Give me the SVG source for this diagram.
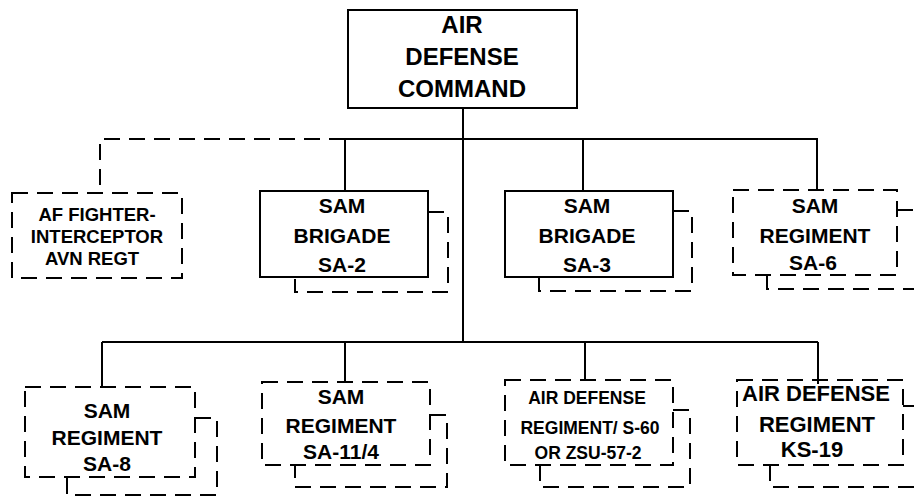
<svg xmlns="http://www.w3.org/2000/svg" width="914" height="497" viewBox="0 0 914 497">
<style>
.bg{fill:#fff}
.solid{fill:#fff;stroke:#000;stroke-width:2}
.dbox{fill:none;stroke:#000;stroke-width:2;stroke-dasharray:16 9}
.line{fill:none;stroke:#000;stroke-width:2}
.dline{fill:none;stroke:#000;stroke-width:2;stroke-dasharray:16 9}
text{font-family:"Liberation Sans",Arial,Helvetica,sans-serif;font-weight:bold;fill:#000;text-anchor:middle}
.t24{font-size:24px}
.t21{font-size:21px}
.t19{font-size:18.5px}
.t17{font-size:17.5px}
.t22{font-size:22px}
</style>
<rect class="bg" x="0" y="0" width="914" height="497"/>
<g id="connectors">
<path class="line" d="M463,108 V342"/>
<path class="line" d="M345,139 H818"/>
<path class="dline" d="M345,139 H100 V193"/>
<path class="line" d="M345,139 V191"/>
<path class="line" d="M583,139 V191"/>
<path class="line" d="M817,139 V190"/>
<path class="line" d="M102,342 H818"/>
<path class="line" d="M102,342 V387"/>
<path class="line" d="M345,342 V382"/>
<path class="line" d="M585,342 V380"/>
<path class="line" d="M818,342 V384"/>
</g>
<g id="adc">
<rect class="solid" x="348" y="10" width="229" height="98"/>
<text class="t24" x="462" y="33">AIR</text>
<text class="t24" x="462" y="65">DEFENSE</text>
<text class="t24" x="462" y="97">COMMAND</text>
</g>
<g id="af">
<rect class="dbox" x="12" y="193" width="170" height="85"/>
<text class="t19" x="97" y="221">AF FIGHTER-</text>
<text class="t19" x="97" y="243">INTERCEPTOR</text>
<text class="t19" x="92" y="265">AVN REGT</text>
</g>
<g id="sa2">
<path class="dline" d="M428,212 H448 V292 H295 V277"/>
<rect class="solid" x="260" y="191" width="168" height="86"/>
<text class="t21" x="342" y="213">SAM</text>
<text class="t21" x="342" y="243">BRIGADE</text>
<text class="t21" x="342" y="272">SA-2</text>
</g>
<g id="sa3">
<path class="dline" d="M673,211 H692 V291 H539 V277"/>
<rect class="solid" x="505" y="191" width="168" height="86"/>
<text class="t21" x="587" y="213">SAM</text>
<text class="t21" x="587" y="243">BRIGADE</text>
<text class="t21" x="587" y="272">SA-3</text>
</g>
<g id="sa6">
<path class="dline" d="M897,210 H914"/>
<path class="dline" d="M767,275 V289 H914"/>
<rect class="dbox" x="733" y="190" width="164" height="85"/>
<text class="t21" x="815" y="213">SAM</text>
<text class="t21" x="815" y="243">REGIMENT</text>
<text class="t21" x="813" y="270">SA-6</text>
</g>
<g id="sa8">
<path class="dline" d="M195,418 H217 V495 H67 V477"/>
<rect class="dbox" x="25" y="387" width="170" height="90"/>
<text class="t21" x="107" y="418">SAM</text>
<text class="t21" x="107" y="445">REGIMENT</text>
<text class="t21" x="107" y="471">SA-8</text>
</g>
<g id="sa11">
<path class="dline" d="M430,415 H447 V487 H295 V465"/>
<rect class="dbox" x="262" y="382" width="168" height="83"/>
<text class="t21" x="341" y="404">SAM</text>
<text class="t21" x="341" y="433">REGIMENT</text>
<text class="t21" x="341" y="459">SA-11/4</text>
</g>
<g id="s60">
<path class="dline" d="M673,410 H690 V487 H540 V465"/>
<rect class="dbox" x="505" y="380" width="168" height="85"/>
<text class="t17" x="587" y="404">AIR DEFENSE</text>
<text class="t17" x="590" y="434">REGIMENT/ S-60</text>
<text class="t17" x="588" y="459">OR ZSU-57-2</text>
</g>
<g id="ks19">
<path class="dline" d="M903,406 H914"/>
<path class="dline" d="M770,465 V487 H914"/>
<rect class="dbox" x="737" y="380" width="166" height="85"/>
<text class="t22" x="816" y="401">AIR DEFENSE</text>
<text class="t22" x="817" y="432">REGIMENT</text>
<text class="t22" x="812" y="457">KS-19</text>
</g>
</svg>
